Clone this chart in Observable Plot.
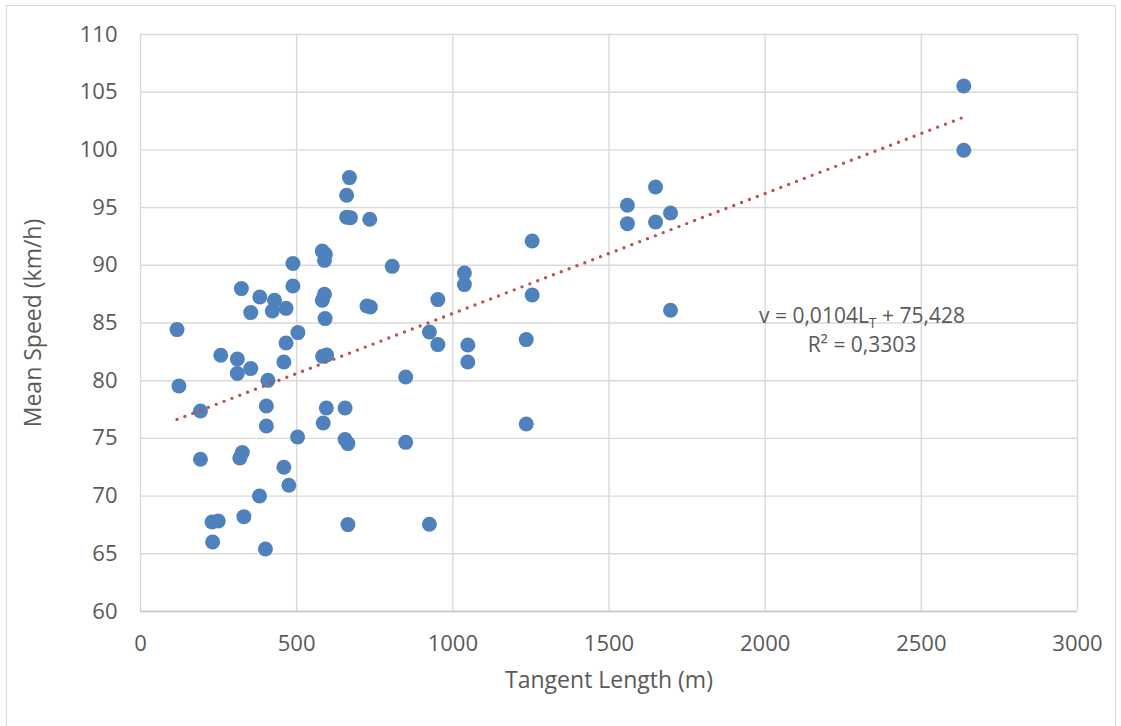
<!DOCTYPE html>
<html>
<head>
<meta charset="utf-8">
<script src="https://cdn.jsdelivr.net/npm/d3@7"></script>
<script src="https://cdn.jsdelivr.net/npm/@observablehq/plot@0.6"></script>
<style>
  body { margin: 0; background: #fff; }
  #chart { position: relative; width: 1121px; height: 726px; overflow: hidden; }
  #frame { position: absolute; left: 6px; top: 5px; width: 1108px; height: 740px; border: 1px solid #d9d9d9; }
  #chart svg { position: absolute; left: 0; top: 0; }
</style>
</head>
<body>
<div id="chart"><div id="frame"></div></div>
<script>
// Tangent length (m) and observed mean speed (km/h) per tangent section
const tangentLength = [
  669, 660, 660, 672, 734, 582, 592, 589, 488, 806,
  488, 323, 382, 429, 589, 582, 725, 736, 466, 422,
  353, 591, 117, 504, 925, 466, 257, 310, 583, 596,
  459, 353, 310, 408, 849, 123, 192, 403, 595, 655,
  585, 403, 503, 655, 664, 849, 192, 326, 318, 459,
  475, 381, 229, 249, 331, 664, 925, 231, 400, 1254,
  1037, 1037, 952, 1254, 952, 1048, 1048, 1235, 1235, 1649,
  1559, 1559, 1649, 1697, 1697, 2636, 2636
];
const meanSpeed = [
  97.6, 96.07, 94.17, 94.13, 93.99, 91.24, 90.95, 90.43, 90.15, 89.91,
  88.21, 87.98, 87.25, 86.97, 87.49, 86.97, 86.47, 86.39, 86.27, 86.04,
  85.9, 85.38, 84.43, 84.17, 84.22, 83.27, 82.2, 81.88, 82.11, 82.23,
  81.62, 81.05, 80.62, 80.03, 80.32, 79.54, 77.37, 77.81, 77.64, 77.64,
  76.33, 76.07, 75.12, 74.9, 74.55, 74.66, 73.19, 73.77, 73.3, 72.5,
  70.94, 70.01, 67.76, 67.84, 68.22, 67.53, 67.56, 66.02, 65.41, 92.1,
  89.33, 88.33, 87.03, 87.43, 83.13, 83.09, 81.62, 83.56, 76.25, 96.79,
  95.2, 93.61, 93.75, 94.53, 86.1, 105.54, 99.97
];
const xTicks = [0, 500, 1000, 1500, 2000, 2500, 3000];
const yTicks = [60, 65, 70, 75, 80, 85, 90, 95, 100, 105, 110];

// Linear trend: v = slope * L_T + intercept
const slope = 0.0104;
const intercept = 75.428;
const rSquared = 0.3303;

const points = tangentLength.map((x, i) => ({x, y: meanSpeed[i]}));
const trendX = d3.extent(tangentLength);
const trend = trendX.map(x => ({x, y: slope * x + intercept}));

const comma = v => String(v).replace(".", ",");
const eqLine1 = `v = ${comma(slope)}LT + ${comma(intercept)}`;
const eqLine2 = `R² = ${comma(rSquared)}`;

const blue = "#4f81bd";
const red = "#c0504d";
const grid = "#d9d9d9";
const plain = d => String(d);

const chart = Plot.plot({
  width: 1121,
  height: 726,
  marginLeft: 140,
  marginRight: 44,
  marginTop: 34,
  marginBottom: 115,
  style: {
    fontFamily: "'Open Sans', sans-serif",
    fontSize: "22px",
    color: "#595959",
    background: "transparent",
    overflow: "visible"
  },
  x: {domain: [0, 3000]},
  y: {domain: [60, 110]},
  marks: [
    Plot.gridX(xTicks, {stroke: grid, strokeOpacity: 1, strokeWidth: 1.4}),
    Plot.gridY(yTicks, {stroke: grid, strokeOpacity: 1, strokeWidth: 1.4}),
    Plot.ruleY([60], {stroke: "#c8c8c8", strokeWidth: 1.6}),
    Plot.axisX(xTicks, {tickSize: 0, tickPadding: 24, label: null, tickFormat: plain}),
    Plot.axisY(yTicks, {tickSize: 0, tickPadding: 23, label: null, tickFormat: plain}),
    Plot.dot(points, {x: "x", y: "y", r: 7.5, fill: blue, stroke: null}),
    Plot.line(trend, {
      x: "x", y: "y", stroke: red, strokeWidth: 3.4,
      strokeDasharray: "0 8.4", strokeLinecap: "round"
    }),
    Plot.text([eqLine1], {x: () => 2310, y: () => 85.6, fontSize: 21, textAnchor: "middle", lineAnchor: "middle"}),
    Plot.text([eqLine2], {x: () => 2310, y: () => 83.1, fontSize: 21, textAnchor: "middle", lineAnchor: "middle"}),
    Plot.text(["Mean Speed (km/h)"], {frameAnchor: "left", rotate: -90, dx: -107, fontSize: 23, textAnchor: "middle", lineAnchor: "middle"}),
    Plot.text(["Tangent Length (m)"], {frameAnchor: "bottom", dy: 69, fontSize: 23, textAnchor: "middle", lineAnchor: "middle"})
  ]
});

// Render the "T" of L_T as a subscript
d3.select(chart).selectAll("text").each(function () {
  if (this.textContent !== eqLine1) return;
  const [head, tail] = eqLine1.split("LT");
  const t = d3.select(this).text(null);
  t.append("tspan").text(head + "L");
  t.append("tspan").attr("dy", 5).attr("font-size", "14px").text("T");
  t.append("tspan").attr("dy", -5).text(tail);
});

document.getElementById("chart").appendChild(chart);
</script>
</body>
</html>
